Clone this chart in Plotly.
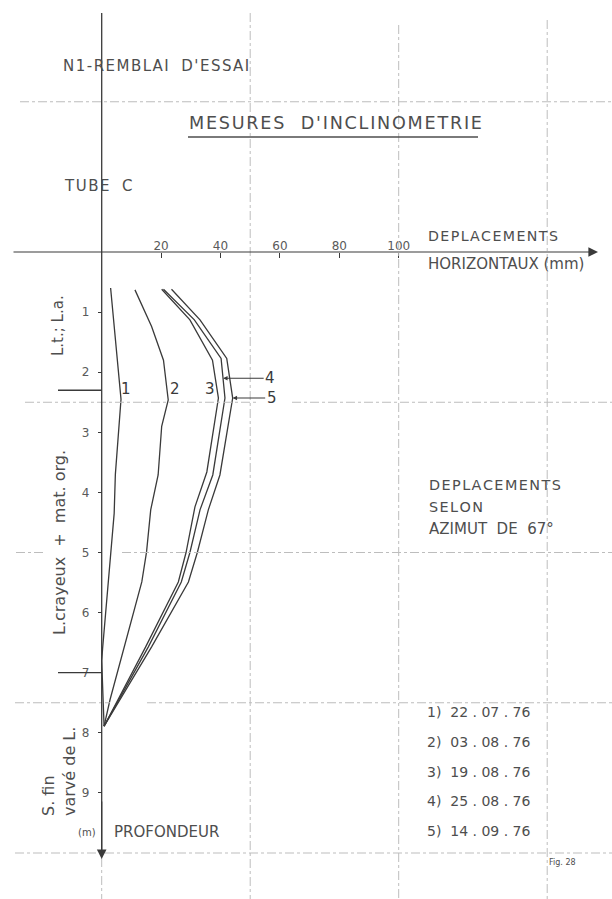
import plotly.graph_objects as go

# ---- data ----
depth_1 = [0.60, 2.45, 3.70, 4.35, 6.60, 6.80, 7.89]
disp_1 = [3.0, 6.5, 4.6, 4.2, 0.3, 0.0, 0.8]

depth_2 = [0.63, 1.24, 1.80, 2.46, 2.90, 3.71, 4.29, 4.99, 5.49, 6.57, 7.45, 7.89]
disp_2 = [11.2, 16.8, 20.8, 22.4, 20.2, 19.0, 16.5, 15.1, 13.5, 7.6, 2.8, 0.8]

depth_3 = [0.62, 1.13, 1.80, 2.43, 3.66, 4.24, 5.00, 5.49, 6.57, 7.89]
disp_3 = [20.2, 29.7, 37.3, 39.3, 35.4, 31.4, 28.4, 25.8, 14.8, 0.8]

depth_4 = [0.62, 1.13, 1.77, 2.43, 3.71, 4.29, 5.00, 5.49, 6.57, 7.89]
disp_4 = [20.8, 31.2, 40.2, 41.5, 37.4, 33.1, 29.7, 26.8, 15.7, 0.8]

depth_5 = [0.62, 1.13, 1.77, 2.43, 3.71, 4.29, 5.00, 5.49, 6.57, 7.89]
disp_5 = [23.5, 33.1, 42.1, 44.1, 39.8, 35.9, 32.2, 29.2, 16.8, 0.8]

x_ticks = [20, 40, 60, 80, 100]
y_ticks = [1, 2, 3, 4, 5, 6, 7, 8, 9]
dates = ["22.07.76", "03.08.76", "19.08.76", "25.08.76", "14.09.76"]

# ---- layout geometry ----
W, H = 612, 899
X0, SX = 101.7, 2.97   # pixel of 0 mm, pixels per mm
Y0, SY = 252.0, 60.1   # pixel of 0 m, pixels per m

def mx(xp):
    return (xp - X0) / SX

def my(yp):
    return (yp - Y0) / SY

LINE = "#3a3a3a"
GRID = "#bdbdbd"
TXT = "#4e4e4e"
FONT = "DejaVu Sans"
NB = "\u00a0"
HS = "\u200a"

def spaced(s, gap=NB * 2):
    return HS.join(ch if ch != " " else gap for ch in s)

fig = go.Figure()
series = [(disp_1, depth_1), (disp_2, depth_2), (disp_3, depth_3),
          (disp_4, depth_4), (disp_5, depth_5)]
for i, (xs, ys) in enumerate(series):
    fig.add_trace(go.Scatter(x=xs, y=ys, mode="lines", name=str(i + 1),
                             line=dict(color=LINE, width=1.3),
                             hoverinfo="skip"))

shapes = []
def hline(d, x_a, x_b, color=GRID, dash="dashdot", width=1):
    shapes.append(dict(type="line", xref="x", yref="y", x0=x_a, x1=x_b,
                       y0=d, y1=d, line=dict(color=color, width=width, dash=dash)))

def vline(v, y_a, y_b, color=GRID, dash="dashdot", width=1):
    shapes.append(dict(type="line", xref="x", yref="y", x0=v, x1=v,
                       y0=y_a, y1=y_b, line=dict(color=color, width=width, dash=dash)))

right = mx(W)
bottom = my(H)
# horizontal grid
hline(-2.5, mx(20), right)
hline(2.5, mx(25), mx(257))
hline(2.5, mx(292), right)
hline(5.0, mx(16), mx(43))
hline(5.0, mx(122), right)
hline(7.5, mx(15), mx(110))
hline(7.5, mx(147), right)
hline(10.0, mx(15), right)
# vertical grid
vline(50, my(13), bottom)
vline(100, my(25), bottom)
vline(150, my(20), bottom)
vline(0, my(858), bottom)
# depth axis line
vline(0, my(13), my(850), color=LINE, dash="solid", width=1.3)
# layer separators
hline(2.3, mx(58), 0, color=LINE, dash="solid", width=1.3)
hline(7.0, mx(58), 0, color=LINE, dash="solid", width=1.3)
# title underline
shapes.append(dict(type="line", xref="x", yref="y", x0=mx(188), x1=mx(478),
                   y0=my(137), y1=my(137), line=dict(color=TXT, width=1.6)))

ann = []
def txt(s, xp, yp, size=15, xanchor="left", angle=0, align="left", color=TXT):
    ann.append(dict(text=s, x=mx(xp), y=my(yp), xref="x", yref="y",
                    showarrow=False, xanchor=xanchor, yanchor="middle",
                    textangle=angle, align=align,
                    font=dict(family=FONT, size=size, color=color)))

txt(spaced("N1-REMBLAI D'ESSAI"), 61, 66, 15)
txt(spaced("MESURES D'INCLINOMETRIE", NB + HS + NB), 187, 123, 17.6)
txt(spaced("TUBE C"), 62, 186, 15)
txt(spaced("DEPLACEMENTS"), 426, 236, 14.2)
txt("HORIZONTAUX (mm)", 426, 264, 15)
txt(spaced("DEPLACEMENTS"), 427, 485, 14.4)
txt(spaced("SELON"), 427, 507, 14.4)
txt("AZIMUT" + NB * 2 + "DE" + NB * 2 + "67°", 427, 529, 15)
leg_y = [712, 742, 772, 801, 831]
for k, (d, yp) in enumerate(zip(dates, leg_y)):
    txt(f"{k + 1})" + NB * 2 + d.replace(".", NB + "." + NB), 425, yp, 14)
txt("(m)", 87, 832, 10, xanchor="center")
txt("PROFONDEUR", 112, 832, 15)
txt("Fig. 28", 547, 862, 8)

# rotated layer labels
txt("L.t.;" + NB + "L.a.", 58, 326, 15, xanchor="center", angle=-90)
txt("L.crayeux" + NB * 2 + "+" + NB * 2 + "mat." + NB + "org.", 59, 543, 16,
    xanchor="center", angle=-90)
txt("S." + NB + "fin<br>varvé" + NB + "de" + NB + "L.", 59, 772, 16,
    xanchor="center", angle=-90, align="left")

# curve labels
for lab, xv in [("1", 8.1), ("2", 24.6), ("3", 36.3)]:
    ann.append(dict(text=lab, x=xv, y=2.28, xref="x", yref="y", showarrow=False,
                    font=dict(family=FONT, size=15, color=LINE)))
ann.append(dict(text="4", x=40.9, y=2.10, xref="x", yref="y", showarrow=True,
                ax=47, ay=0, arrowhead=2, arrowsize=0.8, arrowwidth=1.1,
                arrowcolor=LINE, standoff=0, startstandoff=0,
                font=dict(family=FONT, size=15, color=LINE)))
ann.append(dict(text="5", x=44.1, y=2.43, xref="x", yref="y", showarrow=True,
                ax=39, ay=0, arrowhead=2, arrowsize=0.8, arrowwidth=1.1,
                arrowcolor=LINE, standoff=0,
                font=dict(family=FONT, size=15, color=LINE)))

# axis arrows
ann.append(dict(text="", x=mx(598), y=0, ax=mx(12), ay=0, xref="x", yref="y",
                axref="x", ayref="y", showarrow=True, arrowhead=2, arrowsize=1.6,
                arrowwidth=1.2, arrowcolor=LINE))
ann.append(dict(text="", x=0, y=my(859), ax=0, ay=my(800), xref="x", yref="y",
                axref="x", ayref="y", showarrow=True, arrowhead=2, arrowsize=1.6,
                arrowwidth=1.2, arrowcolor=LINE))

fig.update_layout(
    width=W, height=H, margin=dict(l=0, r=0, t=0, b=0, autoexpand=False),
    paper_bgcolor="white", plot_bgcolor="white", showlegend=False,
    shapes=shapes, annotations=ann,
    xaxis=dict(range=[mx(0), mx(W)], anchor="free", position=1 - Y0 / H,
               side="top", tickvals=x_ticks, ticks="inside", ticklen=5,
               tickcolor=LINE, tickwidth=1, showgrid=False, zeroline=False,
               showline=False, automargin=False,
               tickfont=dict(family=FONT, size=12, color="#5a5a5a")),
    yaxis=dict(range=[my(H), my(0)], anchor="free", position=X0 / W,
               side="left", tickvals=y_ticks, ticks="outside", ticklen=4,
               tickcolor=LINE, tickwidth=1, showgrid=False, zeroline=False,
               showline=False, automargin=False, ticklabelstandoff=6,
               tickfont=dict(family=FONT, size=12, color="#5a5a5a")),
)

fig.write_html("out.html", config={"displayModeBar": False},
               post_script="document.body.style.margin='0';document.body.style.overflow='hidden';")
